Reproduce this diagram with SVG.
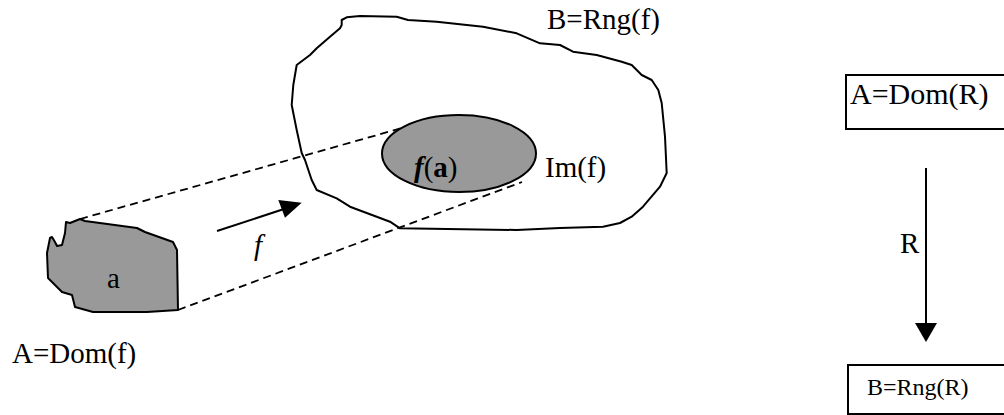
<svg xmlns="http://www.w3.org/2000/svg" width="1004" height="415" viewBox="0 0 1004 415">
<style>
.t{font-family:"Liberation Serif","Times New Roman",serif;font-size:29px;fill:#000}
.blob{stroke:#000;stroke-width:2;stroke-linejoin:round;stroke-linecap:round}
.dash{fill:none;stroke:#000;stroke-width:1.8;stroke-dasharray:8,5}
.ln{fill:none;stroke:#000;stroke-width:2}
.box{fill:#fff;stroke:#000;stroke-width:2}
</style>
<rect width="1004" height="415" fill="#fff"/>
<g id="setB">
<path class="blob" fill="none" d="M341.7,20 L346.7,17.3 L360,16 L396.7,16.7 L408,20 L436.7,21.7 L483,26.7 L516.7,33.3 L540,43.3 L560,45 L573,51.7 L596.7,55 L621.7,61.7 L631.7,65 L641.7,75 L651.7,80 L658.3,90 L661.7,103 L665,136.7 L666.7,173 L660,186.7 L643,206.7 L631.7,216.7 L620,223 L603,226.7 L560,228 L516.7,230 L400,228.3 L390,221.7 L376.7,216.7 L350,206.7 L336.7,198.3 L316.7,190 L311.7,180 L305,160 L301.7,153 L296.7,130 L291.7,105 L293.3,85 L296.7,65 L310,55 L316.7,48.3 L330,36.7 L340,28.3 L341.7,25 Z"/>
<text class="t" x="547" y="29">B=Rng(f)</text>
</g>
<g id="connectors">
<line class="dash" x1="80" y1="219" x2="402" y2="128"/>
<line class="dash" x1="178" y1="310" x2="522" y2="182"/>
<line class="ln" x1="217" y1="231" x2="284" y2="209"/>
<polygon points="301.7,202.7 278.3,200 285,217.7" fill="#000"/>
<line class="ln" x1="926" y1="168" x2="926" y2="324"/>
<polygon points="915,323 937,323 926,342" fill="#000"/>
<text class="t" x="900" y="253">R</text>
<text class="t" x="254" y="255" font-style="italic">f</text>
</g>
<g id="image">
<ellipse class="blob" cx="459" cy="153.5" rx="77" ry="38.5" fill="#999"/>
<text class="t" x="414" y="177"><tspan font-style="italic" font-weight="bold">f</tspan>(<tspan font-weight="bold">a</tspan>)</text>
<text class="t" x="545" y="177">Im(f)</text>
</g>
<g id="setA">
<path class="blob" fill="#999" d="M66,222 L70,223 L80,219 L85,221 L137,228 L145,232 L173,242 L177,250 L178,310 L147,312 L93,312 L75,307 L72,295 L62,292 L48,278 L47,253 L50,238 L52,237 L55,242 L57,246 L62,245 L65,233 Z"/>
<text class="t" x="107" y="288">a</text>
<text class="t" x="12" y="363">A=Dom(f)</text>
</g>
<g id="domR">
<rect class="box" x="846" y="75" width="170" height="54"/>
<text class="t" x="850" y="104" style="font-size:30px">A=Dom(R)</text>
</g>
<g id="rngR">
<rect class="box" x="848" y="365" width="170" height="49"/>
<text class="t" x="867" y="395" style="font-size:24px">B=Rng(R)</text>
</g>
</svg>
